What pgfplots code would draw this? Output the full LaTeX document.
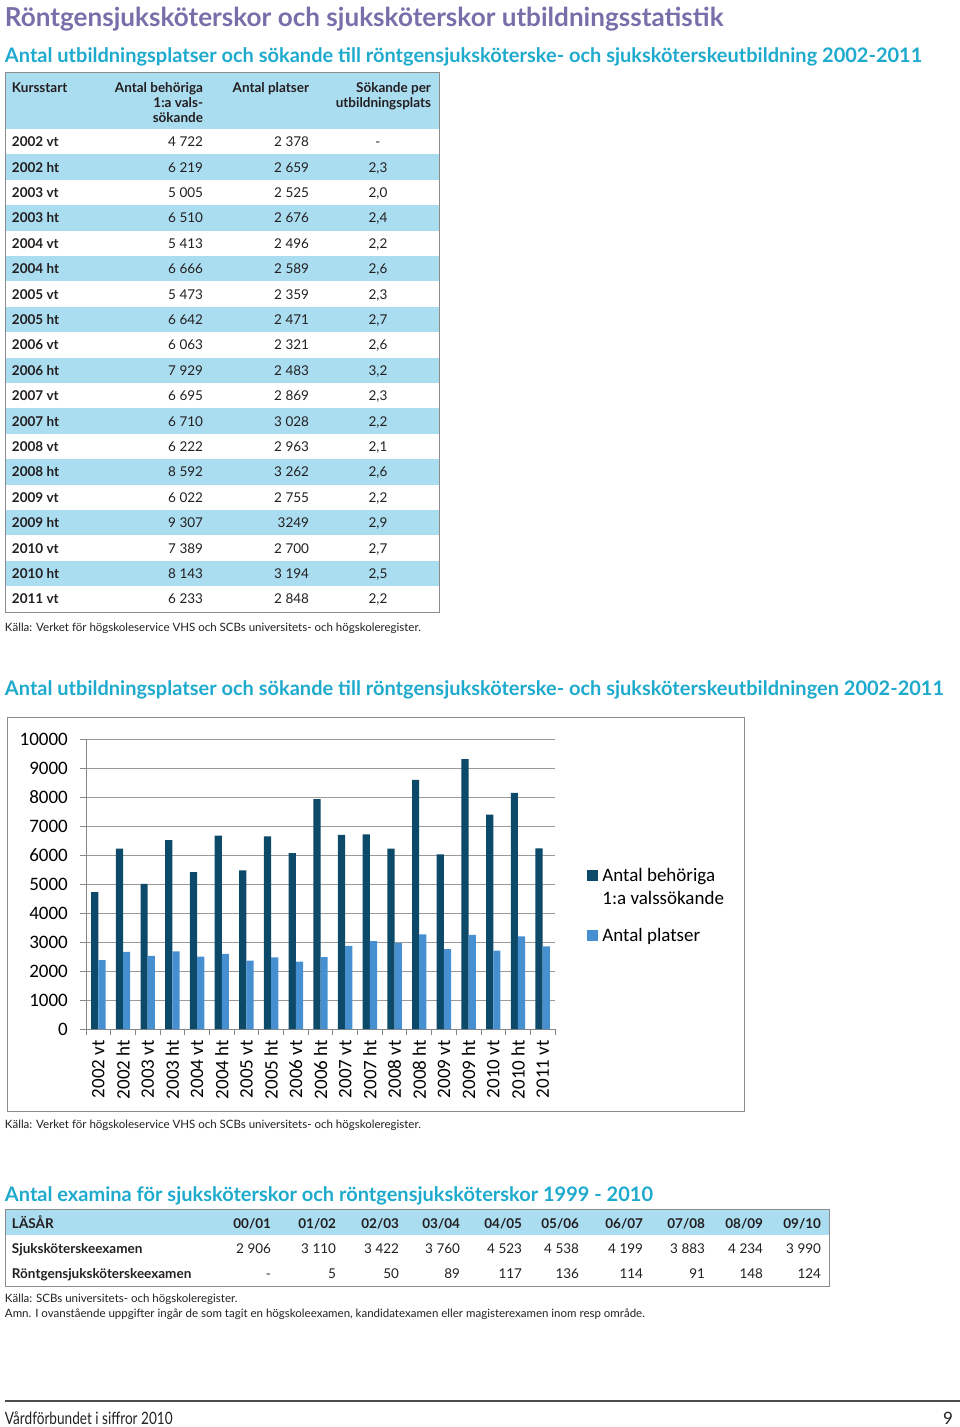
\documentclass[border=0pt]{standalone}
\usepackage{fontspec}
\setmainfont{Lato}
\newfontfamily\chartfont{Carlito}
\usepackage{pgfplots}
\pgfplotsset{compat=1.18}
\definecolor{titlepurple}{HTML}{786EAA}
\definecolor{subcyan}{HTML}{1EAACD}
\definecolor{band}{HTML}{ABDDF1}
\definecolor{framegray}{HTML}{8C8C8C}
\definecolor{textc}{HTML}{231F20}
\definecolor{darkbar}{HTML}{0D4A6A}
\definecolor{lightbar}{HTML}{4690D2}
\definecolor{axisgray}{HTML}{878787}
\definecolor{gridgray}{HTML}{9A9A9A}
\newcommand\fs[1]{\fontsize{#1}{#1}\selectfont}
\begin{document}
\begin{tikzpicture}
\path[use as bounding box] (0pt,0pt) rectangle (960pt,-1427pt);
\begin{scope}[x=1pt,y=-1pt, every node/.style={inner sep=0pt, outer sep=0pt, text=textc}]
 % titles
 \node[anchor=base west, text=titlepurple, font=\bfseries\fs{26.1}] at (5,26) {Röntgensjuksköterskor och sjuksköterskor utbildningsstatistik};
 \node[anchor=base west, text=subcyan, font=\bfseries\fs{20}] at (5,62) {Antal utbildningsplatser och sökande till röntgensjuksköterske- och sjuksköterskeutbildning 2002-2011};
 % table 1
 \fill[band] (5,72) rectangle (439,129);
 \foreach \lab/\a/\b/\c [count=\i from 0] in {
 2002 vt/4 722/2 378/-,
 2002 ht/6 219/2 659/2{,}3,
 2003 vt/5 005/2 525/2{,}0,
 2003 ht/6 510/2 676/2{,}4,
 2004 vt/5 413/2 496/2{,}2,
 2004 ht/6 666/2 589/2{,}6,
 2005 vt/5 473/2 359/2{,}3,
 2005 ht/6 642/2 471/2{,}7,
 2006 vt/6 063/2 321/2{,}6,
 2006 ht/7 929/2 483/3{,}2,
 2007 vt/6 695/2 869/2{,}3,
 2007 ht/6 710/3 028/2{,}2,
 2008 vt/6 222/2 963/2{,}1,
 2008 ht/8 592/3 262/2{,}6,
 2009 vt/6 022/2 755/2{,}2,
 2009 ht/9 307/3249/2{,}9,
 2010 vt/7 389/2 700/2{,}7,
 2010 ht/8 143/3 194/2{,}5,
 2011 vt/6 233/2 848/2{,}2}{
   \ifodd\i \fill[band] (5,{129+25.4*\i}) rectangle (439,{129+25.4*(\i+1)}); \fi
   \node[anchor=base west, font=\bfseries\fs{13.5}] at (12,{129+25.4*(\i+0.5)+5}) {\lab};
   \node[anchor=base east, font=\fs{13.5}] at (203,{129+25.4*(\i+0.5)+5}) {\a};
   \node[anchor=base east, font=\fs{13.5}] at (309,{129+25.4*(\i+0.5)+5}) {\b};
   \node[anchor=base, font=\fs{13.5}] at (378,{129+25.4*(\i+0.5)+5}) {\c};
 }
 \draw[framegray, line width=1pt] (5,72) rectangle (439,612);
 \begin{scope}[every node/.append style={font=\bfseries\fs{13.5}}]
  \node[anchor=base west] at (12,92) {Kursstart};
  \node[anchor=base east] at (203,92) {Antal behöriga};
  \node[anchor=base east] at (203,107) {1:a vals-};
  \node[anchor=base east] at (203,122) {sökande};
  \node[anchor=base east] at (309,92) {Antal platser};
  \node[anchor=base east] at (431,92) {Sökande per};
  \node[anchor=base east] at (431,107) {utbildningsplats};
 \end{scope}
 \node[anchor=base west, font=\fs{11.5}] at (5,631) {Källa: Verket för högskoleservice VHS och SCBs universitets- och högskoleregister.};
 % chart section
 \node[anchor=base west, text=subcyan, font=\bfseries\fs{20}] at (5,695) {Antal utbildningsplatser och sökande till röntgensjuksköterske- och sjuksköterskeutbildningen 2002-2011};
 \draw[framegray, line width=1pt] (7,717) rectangle (744,1111);
 \node[anchor=base west, font=\fs{11.5}] at (5,1128) {Källa: Verket för högskoleservice VHS och SCBs universitets- och högskoleregister.};
 % table 3
 \node[anchor=base west, text=subcyan, font=\bfseries\fs{20}] at (5,1201) {Antal examina för sjuksköterskor och röntgensjuksköterskor 1999 - 2010};
 \fill[band] (5,1209) rectangle (829,1235);
 \draw[framegray, line width=1pt] (5,1209) rectangle (829,1286);
 \node[anchor=base west, font=\bfseries\fs{13.5}] at (12,1228) {LÄSÅR};
 \node[anchor=base west, font=\bfseries\fs{13.5}] at (12,1253) {Sjuksköterskeexamen};
 \node[anchor=base west, font=\bfseries\fs{13.5}] at (12,1278) {Röntgensjuksköterskeexamen};
 \foreach \x/\h/\s/\r in {271/00{/}01/2 906/-, 336/01{/}02/3 110/5, 399/02{/}03/3 422/50, 460/03{/}04/3 760/89, 522/04{/}05/4 523/117, 579/05{/}06/4 538/136, 643/06{/}07/4 199/114, 705/07{/}08/3 883/91, 763/08{/}09/4 234/148, 821/09{/}10/3 990/124}{
   \node[anchor=base east, font=\bfseries\fs{13.5}] at (\x,1228) {\h};
   \node[anchor=base east, font=\fs{13.5}] at (\x,1253) {\s};
   \node[anchor=base east, font=\fs{13.5}] at (\x,1278) {\r};
 }
 \node[anchor=base west, font=\fs{11.5}] at (5,1302) {Källa: SCBs universitets- och högskoleregister.};
 \node[anchor=base west, font=\fs{11.5}] at (5,1317) {Amn. I ovanstående uppgifter ingår de som tagit en högskoleexamen, kandidatexamen eller magisterexamen inom resp område.};
 % footer
 \draw[line width=1.3pt, color=black!70] (5,1401) -- (960,1401);
 \node[anchor=base west, font=\fs{17}] at (5,1424) {\scalebox{0.8}[1]{Vårdförbundet i siffror 2010}};
 \node[anchor=base east, font=\fs{17}] at (953,1424) {9};
\end{scope}
\begin{axis}[
  at={(86pt,-1029pt)}, anchor=south west, scale only axis,
  width=469pt, height=290pt,
  xmin=-0.5, xmax=18.5, ymin=0, ymax=10000,
  ybar=0pt, bar width=7.2pt,
  axis x line*=bottom, axis y line*=left,
  axis line style={draw=axisgray, line width=0.8pt},
  ymajorgrids, grid style={draw=gridgray, line width=0.8pt},
  ytick={0,1000,...,10000},
  xtick={0,...,18},
  xticklabels={2002 vt,2002 ht,2003 vt,2003 ht,2004 vt,2004 ht,2005 vt,2005 ht,2006 vt,2006 ht,2007 vt,2007 ht,2008 vt,2008 ht,2009 vt,2009 ht,2010 vt,2010 ht,2011 vt},
  minor xtick={-0.5,0.5,...,18.5},
  tick align=outside, major tick length=6pt, minor tick length=6pt,
  major x tick style={draw=none},
  minor x tick style={draw=axisgray, line width=0.8pt},
  ytick style={draw=axisgray, line width=0.8pt},
  tick label style={font=\chartfont\fs{19}, text=black},
  yticklabel style={inner sep=0pt, xshift=-12pt},
  xticklabel style={rotate=90, anchor=east, inner xsep=5pt, inner ysep=0pt},
  /pgf/number format/assume math mode=true, /pgf/number format/1000 sep={},
  scaled y ticks=false,
  legend cell align=left,
  legend style={at={(1.068,0.555)}, anchor=north west, draw=none, fill=none,
    inner sep=0pt, outer sep=0pt, row sep=22pt, column sep=4.5pt,
    font=\chartfont\fontsize{19}{23.3}\selectfont,
    cells={align=left}, nodes={inner sep=0pt}},
]
\addplot[fill=darkbar, draw=none,
  legend image code/.code={\fill[darkbar] (0pt,6.2pt) rectangle (11pt,17.2pt);}]
  coordinates {(0,4722) (1,6219) (2,5005) (3,6510) (4,5413) (5,6666) (6,5473) (7,6642) (8,6063) (9,7929) (10,6695) (11,6710) (12,6222) (13,8592) (14,6022) (15,9307) (16,7389) (17,8143) (18,6233)};
\addlegendentry{Antal behöriga\\1:a valssökande}
\addplot[fill=lightbar, draw=none,
  legend image code/.code={\fill[lightbar] (0pt,-5.5pt) rectangle (11pt,5.5pt);}]
  coordinates {(0,2378) (1,2659) (2,2525) (3,2676) (4,2496) (5,2589) (6,2359) (7,2471) (8,2321) (9,2483) (10,2869) (11,3028) (12,2963) (13,3262) (14,2755) (15,3249) (16,2700) (17,3194) (18,2848)};
\addlegendentry{Antal platser}
\end{axis}
\end{tikzpicture}
\end{document}
